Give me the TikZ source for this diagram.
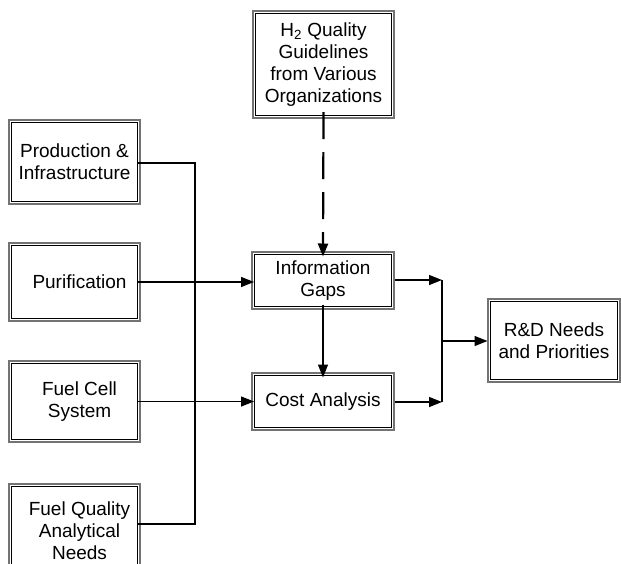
\documentclass[tikz,border=0pt]{standalone}
\usepackage{fontspec}
\setmainfont{Liberation Sans}
\usetikzlibrary{arrows.meta}
\tikzset{
  innerbox/.style={draw=black, line width=1pt, fill=white, align=center, inner sep=0pt,
    font=\fontsize{19}{22}\selectfont},
  outerbox/.style={draw=black!55, line width=1.1pt},
  conn/.style={line width=1.4pt, draw=black},
  arr/.style={conn, -{Triangle[length=13pt,width=10pt]}},
  dashconn/.style={arr, line width=2.2pt, dash pattern=on 27pt off 13pt}
}
% \dbox{name}{x1}{y1}{x2}{y2}{text}  (outer coordinates)
\newcommand{\dbox}[6]{%
  \pgfmathsetmacro{\bw}{#4-#2-5}%
  \pgfmathsetmacro{\bh}{#5-#3-5}%
  \node[innerbox, minimum width=\bw pt, minimum height=\bh pt] (#1) at ({(#2+#4)/2},{(#3+#5)/2}) {#6};
  \draw[outerbox] (#2,#3) rectangle (#4,#5);
}
\begin{document}
\begin{tikzpicture}[x=1pt,y=-1pt]
\useasboundingbox (0,0) rectangle (621,563);
\clip (0,0) rectangle (621,563);
\fill[white] (0,0) rectangle (621,563);
\dbox{h2}{253}{11}{394}{118}{H\textsubscript{2} Quality\\Guidelines\\from Various\\Organizations}
\dbox{prod}{9}{120}{140}{204}{Production \&\\Infrastructure}
\dbox{pur}{9}{243}{140}{321}{\hspace*{10pt}Purification}
\dbox{fc}{9}{361}{140}{442}{\hspace*{10pt}Fuel Cell\\\hspace*{10pt}System}
\dbox{fq}{9}{484}{140}{578}{\hspace*{10pt}Fuel Quality\\\hspace*{10pt}Analytical\\\hspace*{10pt}Needs}
\dbox{ig}{252}{252}{394}{309}{Information\\Gaps}
\dbox{ca}{252}{373}{394}{430}{Cost Analysis}
\dbox{rd}{488}{299}{620}{382}{R\&D Needs\\and Priorities}
\coordinate (busL) at (195,163);
\coordinate (busLb) at (195,524);
\coordinate (busR) at (442,280);
\coordinate (busRb) at (442,402);
\coordinate (busRm) at (442,341);
% left bus
\draw[conn] (prod.east |- busL) -- (busL) -- (busLb) -- (fq.east |- busLb);
\draw[arr] (pur.east |- 0,282) -- (ig.west |- 0,282);
\draw[arr] (fc.east |- ca.west) -- (ca.west);
\draw[dashconn] ([yshift=4pt]h2.south) -- ([yshift=-2.5pt]ig.north);
\draw[arr] ([yshift=2.5pt]ig.south) -- ([yshift=-2.5pt]ca.north);
\draw[arr] ([xshift=2.5pt]ig.east |- busR) -- (busR);
\draw[arr] ([xshift=2.5pt]ca.east |- busRb) -- (busRb);
\draw[conn] (busR) -- (busRb);
\draw[arr] (busRm) -- ([xshift=-2.5pt]rd.west |- busRm);
\end{tikzpicture}
\end{document}
